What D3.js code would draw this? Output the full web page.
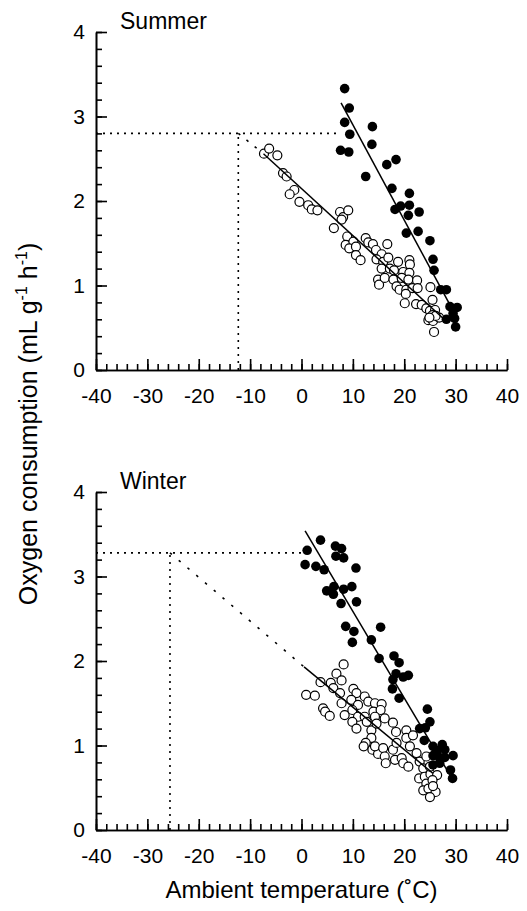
<!DOCTYPE html>
<html>
<head>
<meta charset="utf-8">
<script src="https://cdnjs.cloudflare.com/ajax/libs/d3/7.8.5/d3.min.js"></script>
<style>
  body { margin: 0; background: #fff; }
  svg { display: block; }
  text { font-family: "Liberation Sans", Arial, Helvetica, sans-serif; fill: #000; }
</style>
</head>
<body>
<div id="chart"></div>
<script>
// data: [temperature (C), oxygen consumption (mL g-1 h-1)]
var summerFilled = [
  [8.4,3.33],[9.3,3.10],[8.4,2.93],[9.4,2.79],[7.6,2.60],[9.2,2.58],[13.8,2.88],[13.7,2.67],
  [16.6,2.43],[18.4,2.49],[12.5,2.29],[17.6,2.15],[21.0,2.09],[18.2,1.90],[19.3,1.94],[21.0,1.95],
  [22.9,1.87],[20.8,1.83],[20.4,1.62],[22.7,1.64],[25.0,1.53],[25.6,1.31],[25.8,1.18],[27.1,0.95],
  [28.2,0.95],[28.9,0.75],[30.3,0.74],[29.5,0.67],[28.2,0.60],[29.8,0.61],[30.0,0.51]
];
var summerOpen = [
  [-7.3,2.56],[-6.3,2.62],[-4.7,2.54],[-3.6,2.33],[-2.9,2.29],[-1.4,2.13],[-2.3,2.08],[-0.4,1.99],
  [1.3,1.95],[2.0,1.90],[3.1,1.89],[6.3,1.68],[7.5,1.87],[8.1,1.81],[7.8,1.78],[9.1,1.89],
  [8.9,1.58],[8.6,1.48],[10.1,1.52],[9.3,1.44],[10.6,1.46],[10.6,1.36],[11.5,1.30],[12.5,1.56],
  [13.0,1.51],[13.9,1.49],[14.5,1.42],[15.6,1.37],[16.7,1.49],[14.6,1.31],[15.9,1.28],[16.9,1.33],
  [15.6,1.20],[17.2,1.20],[18.8,1.28],[21.0,1.30],[21.1,1.25],[18.0,1.18],[19.8,1.16],[21.0,1.15],
  [14.9,1.07],[15.1,1.01],[16.2,1.09],[17.9,1.07],[19.5,1.09],[20.8,1.07],[22.5,1.06],[18.5,0.99],
  [19.1,0.95],[20.4,0.95],[21.6,0.97],[22.6,0.97],[20.3,0.90],[20.1,0.79],[25.1,0.98],[25.5,0.83],
  [22.3,0.78],[23.4,0.77],[24.3,0.73],[25.0,0.70],[26.0,0.71],[25.5,0.65],[24.7,0.59],[25.6,0.58],
  [26.8,0.62],[26.1,0.64],[25.8,0.45],[24.9,0.62]
];
var winterFilled = [
  [1.1,3.31],[3.7,3.43],[6.6,3.36],[7.8,3.33],[6.7,3.24],[8.2,3.22],[0.7,3.14],[2.8,3.12],
  [4.4,3.08],[10.6,3.10],[4.9,2.83],[6.2,2.79],[6.3,2.88],[8.2,2.85],[9.8,2.88],[7.7,2.68],
  [10.7,2.70],[8.6,2.41],[10.2,2.35],[9.9,2.22],[13.6,2.25],[15.4,2.40],[15.1,2.03],[18.0,2.06],
  [19.0,1.98],[18.4,1.85],[20.8,1.83],[19.8,1.81],[17.8,1.78],[17.7,1.67],[19.0,1.56],[24.5,1.43],
  [25.0,1.28],[23.0,1.20],[24.1,1.21],[23.9,1.06],[25.6,0.99],[27.4,1.01],[26.4,0.94],[27.9,0.95],
  [29.5,0.88],[25.6,0.88],[26.8,0.86],[26.9,0.79],[25.6,0.77],[29.0,0.71],[29.4,0.61],[27.9,0.86]
];
var winterOpen = [
  [0.9,1.60],[2.6,1.59],[3.7,1.75],[4.2,1.44],[4.6,1.40],[5.5,1.35],[5.7,1.74],[6.2,1.68],
  [6.8,1.85],[7.8,1.77],[8.2,1.96],[7.5,1.62],[7.8,1.50],[8.4,1.36],[10.1,1.67],[10.7,1.62],
  [9.7,1.54],[11.0,1.48],[9.9,1.42],[11.0,1.34],[9.9,1.28],[10.7,1.20],[12.3,1.58],[13.0,1.52],
  [12.3,1.34],[12.7,1.28],[14.3,1.50],[15.6,1.49],[14.0,1.40],[15.4,1.42],[14.3,1.34],[13.6,1.18],
  [14.6,1.26],[16.2,1.32],[17.8,1.27],[18.4,1.16],[13.6,1.09],[12.5,1.03],[12.1,0.99],[13.8,0.95],
  [14.9,0.90],[14.3,0.99],[15.9,0.97],[16.2,0.87],[16.4,0.79],[17.8,0.95],[18.5,1.03],[20.4,1.18],
  [20.4,1.09],[21.7,1.12],[21.1,0.99],[18.2,0.83],[19.5,0.85],[19.8,0.79],[20.8,0.75],[22.4,0.91],
  [23.0,0.81],[24.3,0.87],[23.7,0.73],[22.9,0.61],[24.0,0.63],[25.1,0.66],[26.4,0.65],[24.3,0.55],
  [23.7,0.47],[24.7,0.49],[26.1,0.45],[25.0,0.39],[25.5,0.59],[25.0,0.75],[25.6,0.52]
];

// regression lines (end points) and extrapolation to the lower critical temperature
var summerFilledFit = [[7.7,3.16],[30.5,0.59]];
var summerOpenFit   = [[-7.4,2.56],[27.6,0.61]];
var summerOpenExtra = [[-12.3,2.80],[-7.4,2.56]];
var summerRef = [-12.3, 2.80, 7.5];   // temperature, VO2, end of horizontal guide
var winterFilledFit = [[0.7,3.54],[28.9,0.65]];
var winterOpenFit   = [[0.5,1.93],[25.6,0.67]];
var winterOpenExtra = [[-25.6,3.28],[0.5,1.93]];
var winterRef = [-25.6, 3.28, 0.3];

var xMajor = [-40,-30,-20,-10,0,10,20,30,40];
var yMajor = [0,1,2,3,4];

var W = 527, H = 911;
var svg = d3.select("#chart").append("svg")
  .attr("width", W)
  .attr("height", H);

var x = d3.scaleLinear().domain([-40, 40]).range([96, 507]);
var xMinor = d3.range(-40, 41, 2);
var yMinor = d3.range(0, 4.01, 0.2).map(function(d) { return +d.toFixed(1); });
var plain = function(d) { return String(d); };   // keep the plain hyphen, no unicode minus

function drawPanel(title, top, bottom, filled, open, filledFit, openFit, openExtra, ref, diagDash) {
  var y = d3.scaleLinear().domain([0, 4]).range([bottom, top]);
  var g = svg.append("g");
  var line = d3.line().x(function(d) { return x(d[0]); }).y(function(d) { return y(d[1]); });

  //minor ticks
  g.append("g")
    .attr("transform", "translate(0," + bottom + ")")
    .call(d3.axisBottom(x).tickValues(xMinor).tickSize(-6).tickSizeOuter(0).tickFormat(""));
  g.append("g")
    .attr("transform", "translate(" + x(-40) + ",0)")
    .call(d3.axisLeft(y).tickValues(yMinor).tickSize(-6).tickSizeOuter(0).tickFormat(""));

  //major ticks and labels
  g.append("g")
    .attr("transform", "translate(0," + bottom + ")")
    .call(d3.axisBottom(x).tickValues(xMajor).tickSize(-11).tickSizeOuter(0).tickPadding(18).tickFormat(plain));
  g.append("g")
    .attr("transform", "translate(" + x(-40) + ",0)")
    .call(d3.axisLeft(y).tickValues(yMajor).tickSize(-11).tickSizeOuter(0).tickPadding(11).tickFormat(plain));

  g.selectAll(".domain, .tick line").attr("stroke", "#000").attr("stroke-width", 1.6);
  g.selectAll(".tick text").style("font-size", "21px").attr("fill", "#000");

  //reference guides (dotted)
  g.append("path")
    .attr("d", line([[-40, ref[1]], [ref[2], ref[1]]]))
    .attr("fill", "none").attr("stroke", "#000").attr("stroke-width", 1.6)
    .attr("stroke-dasharray", "2,5");
  g.append("path")
    .attr("d", line([[ref[0], 0], [ref[0], ref[1]]]))
    .attr("fill", "none").attr("stroke", "#000").attr("stroke-width", 1.6)
    .attr("stroke-dasharray", "2,5");
  g.append("path")
    .attr("d", line(openExtra))
    .attr("fill", "none").attr("stroke", "#000").attr("stroke-width", 1.6)
    .attr("stroke-dasharray", diagDash);

  //points
  g.selectAll(".open")
    .data(open)
    .enter().append("circle")
    .attr("cx", function(d) { return x(d[0]); })
    .attr("cy", function(d) { return y(d[1]); })
    .attr("r", 4.5)
    .attr("fill", "#fff").attr("stroke", "#000").attr("stroke-width", 1.2);
  g.selectAll(".filled")
    .data(filled)
    .enter().append("circle")
    .attr("cx", function(d) { return x(d[0]); })
    .attr("cy", function(d) { return y(d[1]); })
    .attr("r", 4.8)
    .attr("fill", "#000");

  //fitted lines
  g.append("path").attr("d", line(openFit))
    .attr("fill", "none").attr("stroke", "#000").attr("stroke-width", 1.5);
  g.append("path").attr("d", line(filledFit))
    .attr("fill", "none").attr("stroke", "#000").attr("stroke-width", 1.5);

  g.append("text")
    .attr("x", 120)
    .attr("y", top - 3)
    .style("font-size", "23px")
    .text(title);
}

drawPanel("Summer", 32, 370, summerFilled, summerOpen, summerFilledFit, summerOpenFit, summerOpenExtra, summerRef, "2.5,8");
drawPanel("Winter", 492, 830, winterFilled, winterOpen, winterFilledFit, winterOpenFit, winterOpenExtra, winterRef, "2.5,9");

//axis titles
svg.append("text")
  .attr("x", (x(-40) + x(40)) / 2)
  .attr("y", 898)
  .attr("text-anchor", "middle")
  .style("font-size", "24px")
  .text("Ambient temperature (\u02DAC)");

var yl = svg.append("text")
  .attr("transform", "translate(37,424) rotate(-90)")
  .attr("text-anchor", "middle")
  .style("font-size", "25px");
yl.append("tspan").text("Oxygen consumption (mL g");
yl.append("tspan").attr("dy", -10).style("font-size", "16px").text("-1");
yl.append("tspan").attr("dy", 10).text(" h");
yl.append("tspan").attr("dy", -10).style("font-size", "16px").text("-1");
yl.append("tspan").attr("dy", 10).text(")");
</script>
</body>
</html>
